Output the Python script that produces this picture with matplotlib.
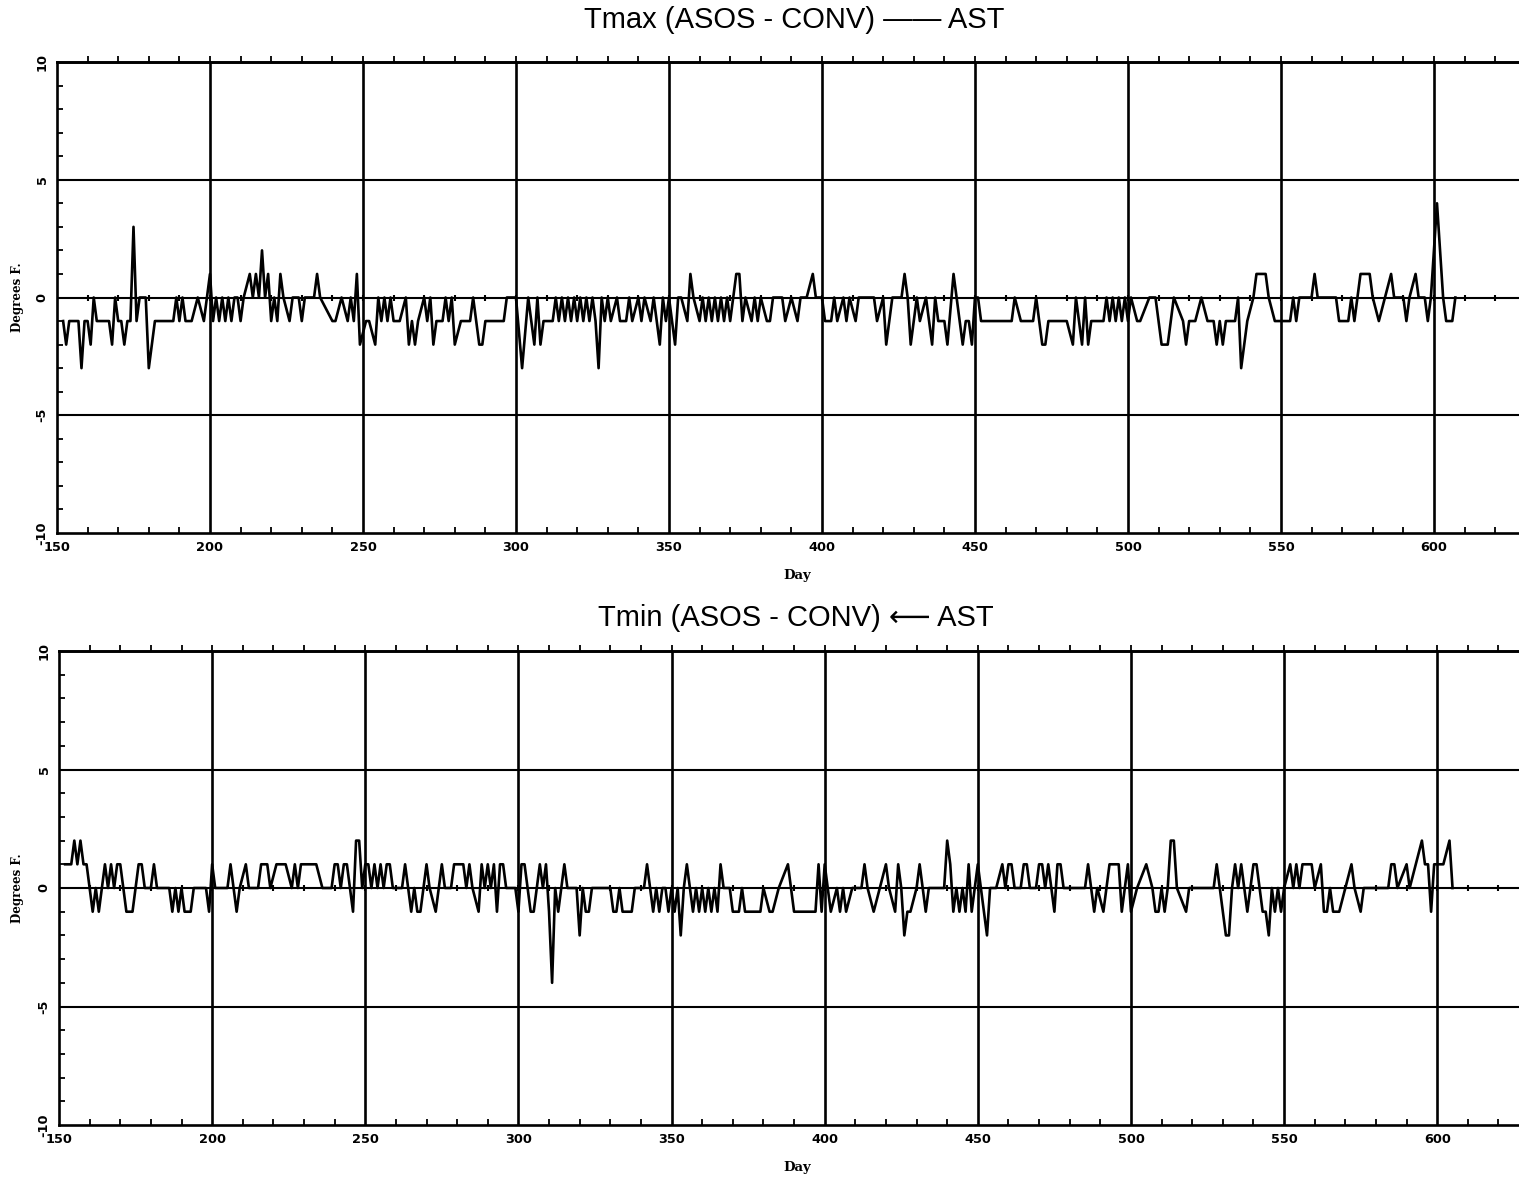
import matplotlib
matplotlib.use("Agg")
import matplotlib.pyplot as plt
import numpy as np

# Tmax (ASOS - CONV) daily differences (day, degrees F)
tmax_day = [152, 153, 154, 157, 158, 159, 160, 161, 162, 163, 167, 168, 169, 170, 171, 172, 173, 174,
            175, 176, 177, 179, 180, 182, 188, 189, 190, 191, 192, 194, 196, 198, 199, 200, 201, 202,
            203, 204, 205, 206, 207, 208, 209, 210, 211, 213, 214, 215, 216, 217, 218, 219, 220, 221,
            222, 223, 224, 226, 227, 229, 230, 231, 234, 235, 236, 240, 241, 243, 245, 246, 247, 248,
            249, 251, 252, 254, 255, 256, 257, 258, 259, 260, 262, 264, 265, 266, 267, 268, 270, 271,
            272, 273, 274, 276, 277, 278, 279, 280, 282, 285, 286, 288, 289, 290, 296, 297, 300, 302,
            304, 306, 307, 308, 309, 312, 313, 314, 315, 316, 317, 318, 319, 320, 321, 322, 323, 324,
            325, 326, 327, 328, 329, 330, 331, 333, 334, 336, 337, 338, 340, 341, 342, 344, 345, 347,
            348, 349, 350, 352, 353, 354, 356, 357, 358, 360, 361, 362, 363, 364, 365, 366, 367, 368,
            369, 370, 372, 373, 374, 375, 377, 378, 379, 380, 382, 383, 384, 387, 388, 390, 392, 393,
            395, 397, 398, 400, 401, 403, 404, 405, 407, 408, 409, 411, 412, 417, 418, 420, 421, 423,
            426, 427, 428, 429, 431, 432, 434, 436, 437, 438, 440, 441, 443, 445, 446, 447, 448, 449,
            450, 451, 452, 462, 463, 465, 469, 470, 472, 473, 474, 480, 482, 483, 485, 486, 487, 488,
            492, 493, 494, 495, 496, 497, 498, 499, 500, 501, 503, 504, 507, 509, 511, 513, 515, 518,
            519, 520, 522, 524, 526, 528, 529, 530, 531, 532, 535, 536, 537, 539, 541, 542, 545, 546,
            548, 553, 554, 555, 556, 560, 561, 562, 568, 569, 572, 573, 574, 575, 576, 579, 580, 582,
            584, 586, 587, 590, 591, 592, 594, 595, 597, 598, 599, 601, 603, 604, 606, 607]
tmax_val = [-1, -2, -1, -1, -3, -1, -1, -2, 0, -1, -1, -2, 0, -1, -1, -2, -1, -1,
            3, -1, 0, 0, -3, -1, -1, 0, -1, 0, -1, -1, 0, -1, 0, 1, -1, 0,
            -1, 0, -1, 0, -1, 0, 0, -1, 0, 1, 0, 1, 0, 2, 0, 1, -1, 0,
            -1, 1, 0, -1, 0, 0, -1, 0, 0, 1, 0, -1, -1, 0, -1, 0, -1, 1,
            -2, -1, -1, -2, 0, -1, 0, -1, 0, -1, -1, 0, -2, -1, -2, -1, 0, -1,
            0, -2, -1, -1, 0, -1, 0, -2, -1, -1, 0, -2, -2, -1, -1, 0, 0, -3,
            0, -2, 0, -2, -1, -1, 0, -1, 0, -1, 0, -1, 0, -1, 0, -1, 0, -1,
            0, -1, -3, 0, -1, 0, -1, 0, -1, -1, 0, -1, 0, -1, 0, -1, 0, -2,
            0, -1, 0, -2, 0, 0, -1, 1, 0, -1, 0, -1, 0, -1, 0, -1, 0, -1,
            0, -1, 1, 1, -1, 0, -1, 0, -1, 0, -1, -1, 0, 0, -1, 0, -1, 0,
            0, 1, 0, 0, -1, -1, 0, -1, 0, -1, 0, -1, 0, 0, -1, 0, -2, 0,
            0, 1, 0, -2, 0, -1, 0, -2, 0, -1, -1, -2, 1, -1, -2, -1, -1, -2,
            0, 0, -1, -1, 0, -1, -1, 0, -2, -2, -1, -1, -2, 0, -2, 0, -2, -1,
            -1, 0, -1, 0, -1, 0, -1, 0, -1, 0, -1, -1, 0, 0, -2, -2, 0, -1,
            -2, -1, -1, 0, -1, -1, -2, -1, -2, -1, -1, 0, -3, -1, 0, 1, 1, 0,
            -1, -1, 0, -1, 0, 0, 1, 0, 0, -1, -1, 0, -1, 0, 1, 1, 0, -1,
            0, 1, 0, 0, -1, 0, 1, 0, 0, -1, 0, 4, 0, -1, -1, 0]

# Tmin (ASOS - CONV)
tmin_day = [152, 154, 155, 156, 157, 158, 159, 160, 161, 162, 163, 164, 165, 166, 167, 168, 169, 170,
            171, 172, 174, 175, 176, 177, 178, 180, 181, 182, 186, 187, 188, 189, 190, 191, 193, 194,
            198, 199, 200, 201, 205, 206, 207, 208, 209, 211, 212, 215, 216, 218, 219, 221, 224, 226,
            227, 228, 229, 234, 236, 239, 240, 241, 242, 243, 244, 246, 247, 248, 249, 250, 251, 252,
            253, 254, 255, 256, 257, 258, 259, 262, 263, 264, 265, 266, 267, 268, 269, 270, 271, 273,
            274, 275, 276, 278, 279, 282, 283, 284, 285, 287, 288, 289, 290, 291, 292, 293, 294, 295,
            296, 299, 300, 301, 302, 303, 304, 305, 306, 307, 308, 309, 310, 311, 312, 313, 314, 315,
            316, 319, 320, 321, 322, 323, 324, 330, 331, 332, 333, 334, 337, 338, 341, 342, 343, 344,
            345, 346, 347, 348, 349, 350, 351, 352, 353, 354, 355, 356, 357, 358, 359, 360, 361, 362,
            363, 364, 365, 366, 367, 369, 370, 372, 373, 374, 379, 380, 382, 383, 385, 388, 389, 390,
            397, 398, 399, 400, 401, 402, 404, 405, 406, 407, 409, 412, 413, 414, 416, 418, 420, 421,
            423, 424, 425, 426, 427, 428, 430, 431, 432, 433, 434, 439, 440, 441, 442, 443, 444, 445,
            446, 447, 448, 449, 450, 451, 453, 454, 456, 458, 459, 460, 461, 462, 464, 465, 466, 467,
            469, 470, 471, 472, 473, 475, 476, 477, 478, 485, 486, 487, 488, 489, 491, 492, 493, 496,
            497, 499, 500, 502, 505, 507, 508, 509, 510, 511, 512, 513, 514, 515, 518, 519, 527, 528,
            529, 531, 532, 533, 534, 535, 536, 537, 538, 539, 540, 541, 542, 543, 544, 545, 546, 547,
            548, 549, 550, 552, 553, 554, 555, 556, 559, 560, 562, 563, 564, 565, 566, 568, 570, 572,
            573, 575, 576, 584, 585, 586, 587, 590, 591, 595, 596, 597, 598, 599, 602, 604, 605]
tmin_val = [1, 1, 2, 1, 2, 1, 1, 0, -1, 0, -1, 0, 1, 0, 1, 0, 1, 1,
            0, -1, -1, 0, 1, 1, 0, 0, 1, 0, 0, -1, 0, -1, 0, -1, -1, 0,
            0, -1, 1, 0, 0, 1, 0, -1, 0, 1, 0, 0, 1, 1, 0, 1, 1, 0,
            1, 0, 1, 1, 0, 0, 1, 1, 0, 1, 1, -1, 2, 2, 0, 1, 1, 0,
            1, 0, 1, 0, 1, 1, 0, 0, 1, 0, -1, 0, -1, -1, 0, 1, 0, -1,
            0, 1, 0, 0, 1, 1, 0, 1, 0, -1, 1, 0, 1, 0, 1, -1, 1, 1,
            0, 0, -1, 1, 1, 0, -1, -1, 0, 1, 0, 1, -1, -4, 0, -1, 0, 1,
            0, 0, -2, 0, -1, -1, 0, 0, -1, -1, 0, -1, -1, 0, 0, 1, 0, -1,
            0, -1, 0, 0, -1, 0, -1, 0, -2, 0, 1, 0, -1, 0, -1, 0, -1, 0,
            -1, 0, -1, 1, 0, 0, -1, -1, 0, -1, -1, 0, -1, -1, 0, 1, 0, -1,
            -1, 1, -1, 1, 0, -1, 0, -1, 0, -1, 0, 0, 1, 0, -1, 0, 1, 0,
            -1, 1, 0, -2, -1, -1, 0, 1, 0, -1, 0, 0, 2, 1, -1, 0, -1, 0,
            -1, 1, -1, 0, 1, 0, -2, 0, 0, 1, 0, 1, 1, 0, 0, 1, 1, 0,
            0, 1, 1, 0, 1, -1, 1, 1, 0, 0, 1, 0, -1, 0, -1, 0, 1, 1,
            -1, 1, -1, 0, 1, 0, -1, -1, 0, -1, 0, 2, 2, 0, -1, 0, 0, 1,
            0, -2, -2, 0, 1, 0, 1, 0, -1, 0, 1, 1, 0, -1, -1, -2, 0, -1,
            0, -1, 0, 1, 0, 1, 0, 1, 1, 0, 1, -1, -1, 0, -1, -1, 0, 1,
            0, -1, 0, 0, 1, 1, 0, 1, 0, 2, 1, 1, -1, 1, 1, 2, 0]

x_ticks = [150, 200, 250, 300, 350, 400, 450, 500, 550, 600]
y_ticks = [-10, -5, 0, 5, 10]
grid_days = [200, 250, 300, 350, 400, 450, 500, 550, 600]
grid_vals = [-5, 0, 5]

LW = 1.9
tick_font = dict(family="DejaVu Sans", weight="bold", size=9.3)
label_font = dict(family="DejaVu Serif", weight="bold")

fig = plt.figure(figsize=(15.19, 11.79), dpi=100)


def draw_panel(rect, xmax, days, vals, title, title_xy, day_xy, deg_xy):
    ax = fig.add_axes(rect)
    ax.set_xlim(150, xmax)
    ax.set_ylim(-10, 10)

    for d in grid_days:
        ax.axvline(d, color="black", lw=LW, zorder=1)
    for v in grid_vals:
        ax.axhline(v, color="black", lw=1.5, zorder=1)

    ax.plot(days, vals, color="black", lw=LW, zorder=3)

    # small marks along the zero line every 10 days
    zt = np.arange(160, xmax, 10)
    ax.plot(zt, np.zeros(len(zt)), ls="none", marker="|", ms=5, mew=1.5,
            color="black", zorder=2)

    for s in ["left", "bottom", "top"]:
        ax.spines[s].set_linewidth(LW)
    ax.spines["right"].set_visible(False)

    ax.set_xticks(x_ticks)
    ax.set_xticks(np.arange(150, xmax, 10), minor=True)
    ax.set_yticks(y_ticks)
    ax.set_yticks(np.arange(-10, 11, 1), minor=True)
    ax.tick_params(axis="both", which="major", length=0, pad=6)
    ax.tick_params(axis="both", which="minor", direction="in", length=4,
                   width=1.3)
    ax.set_xticklabels([str(v) for v in x_ticks], fontdict=tick_font)
    ax.set_yticklabels([str(v) for v in y_ticks], fontdict=tick_font,
                       rotation=90, va="center")

    top = ax.secondary_xaxis("top")
    top.set_xticks(np.arange(160, xmax, 10))
    top.tick_params(direction="out", length=4, width=1.3, labeltop=False)
    top.spines["top"].set_linewidth(LW)

    fig.text(title_xy[0], title_xy[1], title, ha="center", va="center",
             fontsize=21, family=["Liberation Sans", "DejaVu Sans"])
    fig.text(day_xy[0], day_xy[1], "Day", ha="center", va="center",
             fontsize=9.5, **label_font)
    fig.text(deg_xy[0], deg_xy[1], "Degrees F.", ha="center", va="center",
             rotation=90, fontsize=8.5, **label_font)
    return ax


draw_panel([57 / 1519, 1 - 533 / 1179, 1 - 57 / 1519, 471 / 1179], 627.8,
           tmax_day, tmax_val, "Tmax (ASOS - CONV) \u2014\u2014 AST",
           (794 / 1519, 1 - 20 / 1179), (797 / 1519, 1 - 576 / 1179),
           (18 / 1519, 1 - 297 / 1179))

draw_panel([59 / 1519, 1 - 1125 / 1179, 1 - 59 / 1519, 474 / 1179], 626.7,
           tmin_day, tmin_val, "Tmin (ASOS - CONV) \u27f5 AST",
           (796 / 1519, 1 - 618 / 1179), (797 / 1519, 1 - 1167 / 1179),
           (18 / 1519, 1 - 888 / 1179))

fig.savefig("out.png", dpi=100, facecolor="white")
